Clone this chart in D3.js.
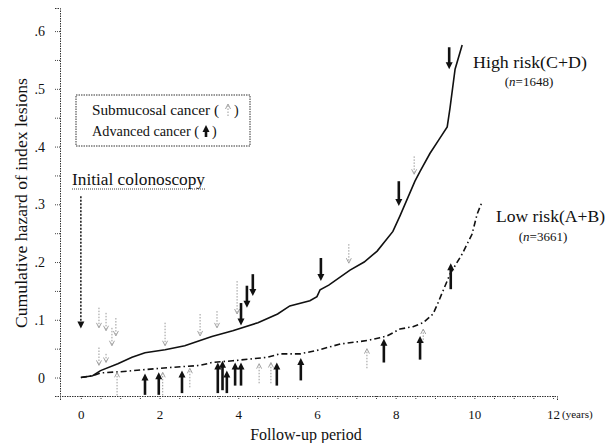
<!DOCTYPE html>
<html>
<head>
<meta charset="utf-8">
<title>Cumulative hazard of index lesions</title>
<script src="https://d3js.org/d3.v7.min.js"></script>
<style>
    body { margin: 0; background: #fff; }
    svg text { font-family: "Liberation Serif", "DejaVu Serif", serif; fill: #111; }
</style>
</head>
<body>
<div id="chart"></div>
<script>
// follow-up time (years) and cumulative hazard
var highTime = [0, 0.3, 0.5, 0.94, 1.3, 1.63, 2.14, 2.64, 3.03, 3.33, 3.86, 4.5, 5.0, 5.31, 5.82, 6.0, 6.08, 6.3, 6.84, 7.2, 7.53, 7.93, 8.11, 8.49, 8.62, 8.87, 9.1, 9.31, 9.38, 9.51, 9.69]
var highHaz  = [0, 0.003, 0.012, 0.024, 0.035, 0.043, 0.048, 0.055, 0.064, 0.071, 0.081, 0.095, 0.11, 0.124, 0.133, 0.14, 0.152, 0.16, 0.186, 0.2, 0.219, 0.253, 0.28, 0.34, 0.357, 0.388, 0.412, 0.434, 0.466, 0.534, 0.576]

var lowTime = [0, 0.3, 0.5, 1.0, 2.2, 3.03, 3.33, 3.86, 4.73, 5.06, 5.57, 6.0, 6.59, 7.27, 7.6, 7.78, 8.11, 8.44, 8.7, 8.95, 9.08, 9.38, 9.69, 9.94, 10.07, 10.2]
var lowHaz  = [0, 0.003, 0.008, 0.01, 0.017, 0.021, 0.026, 0.029, 0.035, 0.041, 0.041, 0.047, 0.058, 0.064, 0.069, 0.072, 0.084, 0.088, 0.095, 0.11, 0.13, 0.179, 0.214, 0.248, 0.283, 0.305]

// arrows: [time, tail hazard, tip hazard]
var advancedHigh = [[4.07, 0.129, 0.09], [4.22, 0.159, 0.121], [4.37, 0.179, 0.141], [6.1, 0.207, 0.167], [8.08, 0.34, 0.297], [9.36, 0.572, 0.534]]
var submucosalHigh = [[0.46, 0.121, 0.086], [0.46, 0.052, 0.021], [0.64, 0.112, 0.081], [0.64, 0.041, 0.026], [0.79, 0.086, 0.055], [0.89, 0.103, 0.072], [2.14, 0.095, 0.055], [3.03, 0.11, 0.072], [3.46, 0.115, 0.086], [3.97, 0.167, 0.11], [6.81, 0.231, 0.198], [8.47, 0.383, 0.352]]
var advancedLow = [[1.63, -0.03, 0.007], [1.98, -0.03, 0.009], [2.57, -0.027, 0.012], [3.48, -0.027, 0.026], [3.6, -0.022, 0.029], [3.71, -0.027, 0.012], [3.92, -0.014, 0.026], [4.07, -0.014, 0.026], [4.98, -0.014, 0.026], [5.59, -0.005, 0.034], [7.7, 0.026, 0.067], [8.62, 0.031, 0.072], [9.4, 0.153, 0.198]]
var submucosalLow = [[0.92, -0.031, 0.009], [2.08, -0.031, 0.009], [2.77, -0.017, 0.016], [4.53, -0.01, 0.024], [4.83, -0.01, 0.026], [7.27, 0.016, 0.05], [8.7, 0.06, 0.084]]
var initialArrow = [0, 0.314, 0.085]

var xTicks = d3.range(0, 25).map(function (i) { return i * 0.5 })
var yTicks = d3.range(0, 13).map(function (i) { return i * 0.05 })

var width = 606, height = 443

var svg = d3.select("#chart").append("svg")
    .attr("width", width)
    .attr("height", height)

var x = d3.scaleLinear().domain([-0.53, 12.1]).range([60, 557])
var y = d3.scaleLinear().domain([-0.032, 0.64]).range([396, 8])

// axes
var xAxis = svg.append("g")
    .attr("transform", "translate(0," + y(-0.032) + ")")
    .call(d3.axisBottom(x).tickValues(xTicks).tickSizeOuter(0).tickSize(4)
        .tickFormat(function (d) { return d % 2 === 0 ? d : "" }))
var yAxis = svg.append("g")
    .attr("transform", "translate(" + x(-0.53) + ",0)")
    .call(d3.axisLeft(y).tickValues(yTicks).tickSizeOuter(0).tickSize(5)
        .tickFormat(function (d, i) { return i % 2 ? "" : (i === 0 ? "0" : "." + (i / 2)) }))

svg.selectAll(".domain").attr("stroke", "#333").attr("stroke-dasharray", "1.5,1")
svg.selectAll(".tick line").attr("stroke", "#444").attr("stroke-dasharray", "1,1")
xAxis.selectAll(".tick text").attr("font-size", 13).attr("dy", "1.25em")
    .style("font-family", "Liberation Serif")
yAxis.selectAll(".tick text").attr("font-size", 14).attr("dx", "-0.5em")
    .style("font-family", "Liberation Serif")

svg.append("text").attr("x", x(12) + 9).attr("y", 418).attr("font-size", 11).text("(years)")

svg.append("text").attr("x", 306).attr("y", 440).attr("text-anchor", "middle")
    .attr("font-size", 16).text("Follow-up period")
svg.append("text").attr("transform", "translate(27,203) rotate(-90)")
    .attr("text-anchor", "middle").attr("font-size", 17)
    .attr("textLength", 250).attr("lengthAdjust", "spacingAndGlyphs")
    .text("Cumulative hazard of index lesions")

// curves
var line = d3.line().x(function (d) { return x(d[0]) }).y(function (d) { return y(d[1]) })
svg.append("path").datum(d3.zip(highTime, highHaz))
    .attr("d", line).attr("fill", "none").attr("stroke", "#111").attr("stroke-width", 1.6)
svg.append("path").datum(d3.zip(lowTime, lowHaz))
    .attr("d", line).attr("fill", "none").attr("stroke", "#111").attr("stroke-width", 1.6)
    .attr("stroke-dasharray", "6,3,1.5,3")

// arrows
function arrow(g, px, yTail, yTip, solid) {
    var dir = yTip > yTail ? 1 : -1
    var head = solid ? 7 : 5
    g.append("line")
        .attr("x1", px).attr("x2", px)
        .attr("y1", yTail).attr("y2", yTip - dir * (solid ? head - 1 : 1))
        .attr("stroke", solid ? "#111" : "#999")
        .attr("stroke-width", solid ? 2.6 : 1)
        .attr("stroke-dasharray", solid ? null : "1.5,1.5")
    if (solid) {
        g.append("path")
            .attr("d", "M" + (px - 3.5) + "," + (yTip - dir * head) + "L" + px + "," + yTip + "L" + (px + 3.5) + "," + (yTip - dir * head) + "Z")
            .attr("fill", "#111")
    } else {
        g.append("path")
            .attr("d", "M" + (px - 2.5) + "," + (yTip - dir * head) + "L" + px + "," + yTip + "L" + (px + 2.5) + "," + (yTip - dir * head))
            .attr("fill", "none").attr("stroke", "#999").attr("stroke-width", 0.9)
    }
}

var arrows = svg.append("g")
submucosalHigh.forEach(function (d) { arrow(arrows, x(d[0]), y(d[1]), y(d[2]), false) })
submucosalLow.forEach(function (d) { arrow(arrows, x(d[0]), y(d[1]), y(d[2]), false) })
advancedHigh.forEach(function (d) { arrow(arrows, x(d[0]), y(d[1]), y(d[2]), true) })
advancedLow.forEach(function (d) { arrow(arrows, x(d[0]), y(d[1]), y(d[2]), true) })

// initial colonoscopy marker
svg.append("text").attr("x", 72).attr("y", 185).attr("font-size", 17)
    .attr("textLength", 133).attr("lengthAdjust", "spacingAndGlyphs").text("Initial colonoscopy")
svg.append("line").attr("x1", 72).attr("x2", 206).attr("y1", 189).attr("y2", 189)
    .attr("stroke", "#444").attr("stroke-dasharray", "1,1")
svg.append("line")
    .attr("x1", x(initialArrow[0])).attr("x2", x(initialArrow[0]))
    .attr("y1", y(initialArrow[1])).attr("y2", y(initialArrow[2]) - 5)
    .attr("stroke", "#222").attr("stroke-width", 1.6).attr("stroke-dasharray", "2,1.5")
svg.append("path")
    .attr("d", "M" + (x(0) - 3.5) + "," + (y(initialArrow[2]) - 7) + "L" + x(0) + "," + y(initialArrow[2]) + "L" + (x(0) + 3.5) + "," + (y(initialArrow[2]) - 7) + "Z")
    .attr("fill", "#111")

// legend
svg.append("rect").attr("x", 76).attr("y", 95).attr("width", 174).attr("height", 51)
    .attr("fill", "none").attr("stroke", "#333").attr("stroke-dasharray", "1.5,1")
svg.append("text").attr("x", 92).attr("y", 115).attr("font-size", 14)
    .attr("textLength", 127).attr("lengthAdjust", "spacingAndGlyphs").text("Submucosal cancer (")
svg.append("text").attr("x", 234).attr("y", 115).attr("font-size", 14).text(")")
svg.append("text").attr("x", 92).attr("y", 136).attr("font-size", 14)
    .attr("textLength", 107).attr("lengthAdjust", "spacingAndGlyphs").text("Advanced cancer (")
svg.append("text").attr("x", 212).attr("y", 136).attr("font-size", 14).text(")")
var leg = svg.append("g")
arrow(leg, 228, 116, 104, false)
arrow(leg, 206, 137, 125, true)

// group labels
svg.append("text").attr("x", 473).attr("y", 68).attr("font-size", 17)
    .attr("textLength", 114).attr("lengthAdjust", "spacingAndGlyphs").text("High risk(C+D)")
svg.append("text").attr("x", 529).attr("y", 86).attr("font-size", 13).attr("text-anchor", "middle")
    .html("(<tspan font-style='italic'>n</tspan>=1648)")
svg.append("text").attr("x", 496).attr("y", 222).attr("font-size", 17)
    .attr("textLength", 109).attr("lengthAdjust", "spacingAndGlyphs").text("Low risk(A+B)")
svg.append("text").attr("x", 543).attr("y", 241).attr("font-size", 13).attr("text-anchor", "middle")
    .html("(<tspan font-style='italic'>n</tspan>=3661)")
</script>
</body>
</html>
